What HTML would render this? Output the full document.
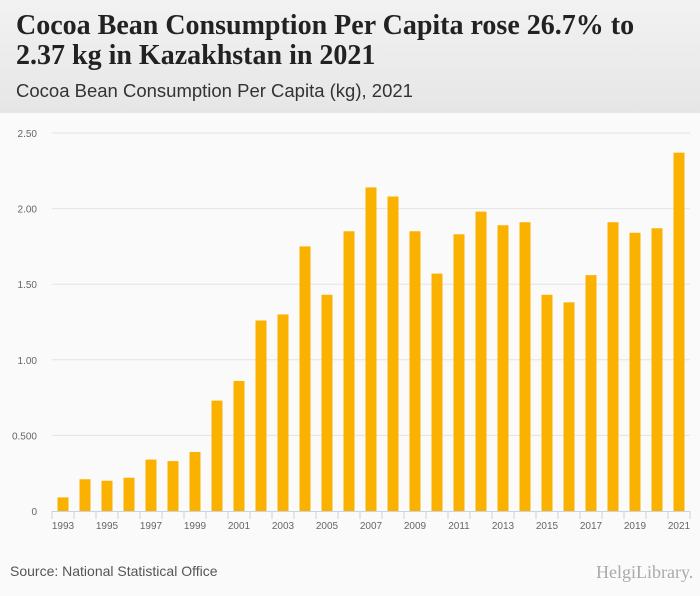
<!DOCTYPE html>
<html><head><meta charset="utf-8"><style>
body{margin:0;width:700px;height:596px;background:#fafafa;font-family:"Liberation Sans",sans-serif;overflow:hidden;position:relative}
#hdr{position:absolute;left:0;top:0;width:700px;height:113px;background:linear-gradient(#f2f2f2,#e6e6e6)}
h1{position:absolute;left:16px;top:11px;margin:0;font-family:"Liberation Serif",serif;font-size:28px;line-height:30px;font-weight:bold;color:#222;white-space:nowrap}
#sub{position:absolute;left:16px;top:80px;font-size:18.5px;color:#333}
#src{position:absolute;left:10px;top:563px;font-size:14px;color:#555}
#logo{position:absolute;left:596px;top:562px;font-family:"Liberation Serif",serif;font-size:18px;color:#aaa}
</style></head><body>
<div id="hdr"></div>
<h1>Cocoa Bean Consumption Per Capita rose 26.7% to<br>2.37 kg in Kazakhstan in 2021</h1>
<div id="sub">Cocoa Bean Consumption Per Capita (kg), 2021</div>
<svg id="chart" width="700" height="596" style="position:absolute;left:0;top:0"></svg>
<div id="src">Source: National Statistical Office</div>
<div id="logo">HelgiLibrary.</div>
<script>
const years=[1993,1994,1995,1996,1997,1998,1999,2000,2001,2002,2003,2004,2005,2006,2007,2008,2009,2010,2011,2012,2013,2014,2015,2016,2017,2018,2019,2020,2021];
const values=[0.09,0.21,0.20,0.22,0.34,0.33,0.39,0.73,0.86,1.26,1.30,1.75,1.43,1.85,2.14,2.08,1.85,1.57,1.83,1.98,1.89,1.91,1.43,1.38,1.56,1.91,1.84,1.87,2.37];
const ticks=[0,0.5,1,1.5,2,2.5];
const tickLabels=["0","0.500","1.00","1.50","2.00","2.50"];
const svg=document.getElementById('chart');const NS="http://www.w3.org/2000/svg";
const x0=52,x1=690,y0=511,yTop=133,vmax=2.5;
const y=v=>y0-(v/vmax)*(y0-yTop);
const bw=(x1-x0)/years.length;
const x=i=>x0+bw*i+bw/2;
function mk(t,a){const e=document.createElementNS(NS,t);for(const k in a)e.setAttribute(k,a[k]);svg.appendChild(e);return e;}
ticks.forEach((t,i)=>{
 if(t>0){const g=mk('line',{x1:x0,x2:x1,y1:y(t),y2:y(t),stroke:'#e3e3e3','stroke-width':1});
 
 }
 const l=mk('text',{x:37,y:y(t)+4,'text-anchor':'end','font-size':10,fill:'#666','font-family':'Liberation Sans'});
 
 
 l.textContent=tickLabels[i];
});
values.forEach((v,i)=>{
 const r=mk('rect',{x:x(i)-5.5,y:y(v),width:11,height:y0-y(v),fill:'#fbb100'});
 
 
});
const ax=mk('line',{x1:x0,x2:x1,y1:y0+0.5,y2:y0+0.5,stroke:'#c8d2e6'});


for(let i=0;i<=years.length;i++){
 const tk=mk('line',{x1:x0+bw*i,x2:x0+bw*i,y1:y0,y2:y0+8,stroke:'#c8d2e6'});
 
 
}
years.forEach((yr,i)=>{if(i%2)return;
 const t=mk('text',{x:x(i),y:y0+18,'text-anchor':'middle','font-size':10,fill:'#666','font-family':'Liberation Sans'});
 
 
 t.textContent=yr;});
</script>
</body></html>
